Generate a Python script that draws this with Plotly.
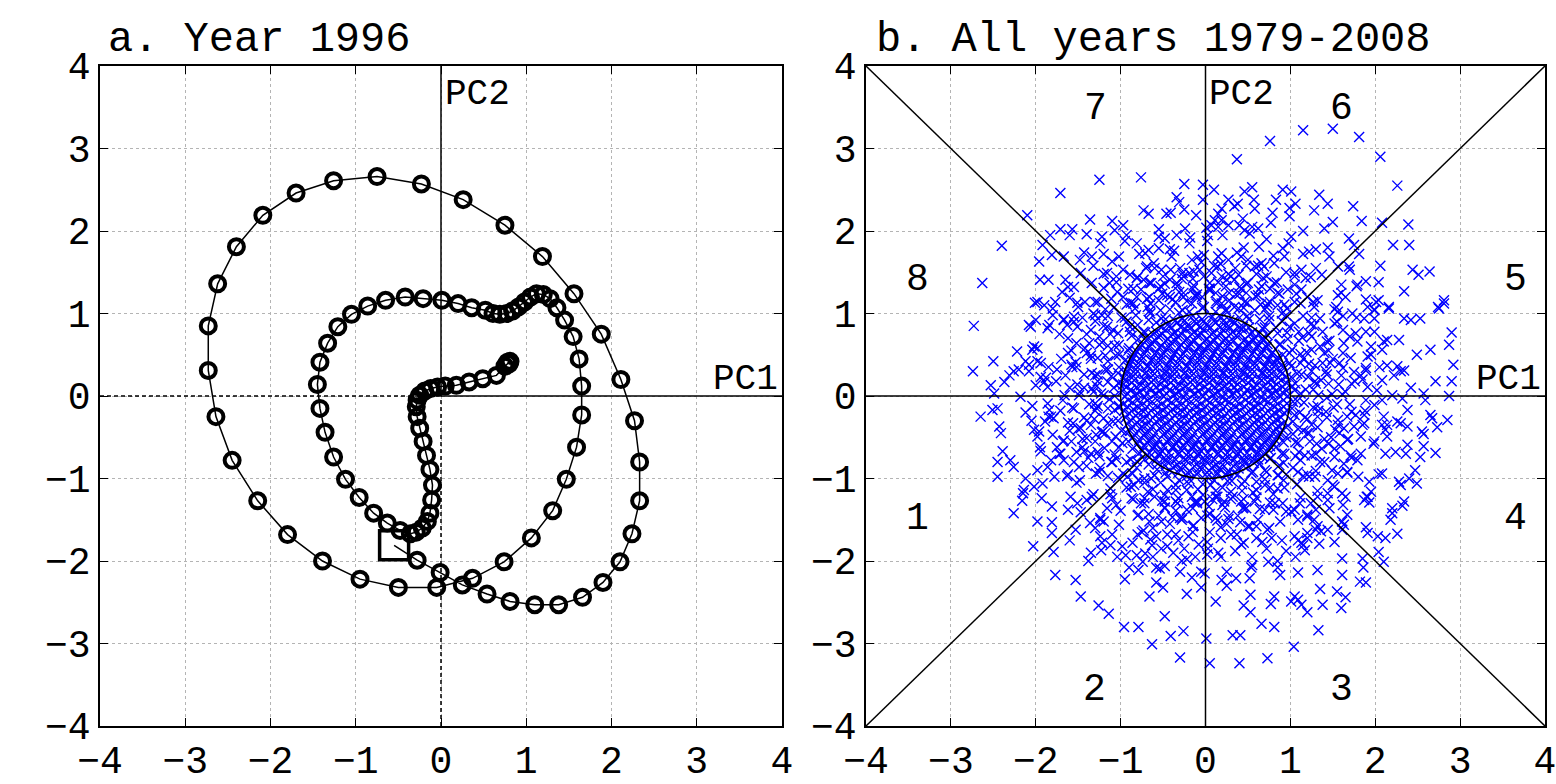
import plotly.graph_objects as go

# ---------------- Panel a: trajectory for 1996 (PC1, PC2) ----------------
start_point = (-0.55, -1.81)
traj_pc1 = [-0.28, -0.01, 0.25, 0.54, 0.81, 1.10, 1.38, 1.66, 1.90, 2.10, 2.24, 2.33, 2.33, 2.27, 2.11,
            1.88, 1.56, 1.19, 0.75, 0.26, -0.23, -0.75, -1.26, -1.70, -2.09, -2.40, -2.62, -2.73, -2.73,
            -2.64, -2.45, -2.15, -1.80, -1.39, -0.95, -0.50, -0.05, 0.37, 0.74, 1.06, 1.31, 1.47, 1.59,
            1.65, 1.65, 1.62, 1.55, 1.45, 1.36, 1.28, 1.20, 1.12, 1.05, 0.98, 0.91, 0.84, 0.77, 0.69, 0.61,
            0.52, 0.36, 0.20, 0.01, -0.21, -0.42, -0.65, -0.86, -1.05, -1.21, -1.33, -1.42, -1.45, -1.42,
            -1.36, -1.26, -1.12, -0.96, -0.79, -0.63, -0.48, -0.36, -0.29, -0.22, -0.16, -0.13, -0.11,
            -0.10, -0.13, -0.17, -0.21, -0.25, -0.28, -0.29, -0.28, -0.25, -0.19, -0.12, -0.04, 0.05,
            0.18, 0.33, 0.49, 0.65, 0.75, 0.79, 0.81, 0.80, 0.78]
traj_pc2 = [-1.99, -2.14, -2.29, -2.40, -2.49, -2.53, -2.53, -2.44, -2.26, -2.01, -1.67, -1.27, -0.80, -0.30, 0.20,
            0.75, 1.24, 1.69, 2.07, 2.38, 2.57, 2.66, 2.61, 2.46, 2.19, 1.81, 1.36, 0.85, 0.31,
            -0.25, -0.78, -1.27, -1.68, -2.00, -2.22, -2.32, -2.32, -2.21, -2.01, -1.72, -1.39, -1.01, -0.62,
            -0.23, 0.12, 0.45, 0.72, 0.92, 1.07, 1.18, 1.23, 1.24, 1.20, 1.14, 1.08, 1.03, 1.00, 0.99, 1.00,
            1.04, 1.07, 1.12, 1.16, 1.18, 1.20, 1.16, 1.09, 0.99, 0.84, 0.64, 0.41, 0.14, -0.15,
            -0.44, -0.74, -1.01, -1.23, -1.42, -1.54, -1.63, -1.67, -1.65, -1.60, -1.52, -1.42, -1.26,
            -1.08, -0.89, -0.72, -0.55, -0.39, -0.25, -0.13, -0.05, 0.01, 0.06, 0.09, 0.11, 0.12,
            0.13, 0.17, 0.21, 0.25, 0.36, 0.40, 0.42, 0.39, 0.41]

# ---------------- Panel b: all days 1979-2008 ----------------
scatter_outer = [
    (-1.25, 2.62), (-0.76, 2.65), (-1.71, 2.46), (-0.25, 2.57), (-2.10, 2.19), (-2.40, 1.82), (-2.63, 1.37),
    (-1.36, 2.14), (-1.10, 2.12), (-0.97, 2.07), (-0.73, 2.25), (-0.67, 2.21), (-0.34, 2.41), (-0.31, 2.35),
    (-0.25, 2.26), (-0.46, 2.21), (-0.41, 2.22), (-0.11, 2.19), (-0.03, 2.56), (-0.03, 2.38), (-1.83, 1.95),
    (-1.71, 2.02), (-1.57, 2.02), (-1.60, 1.95), (-1.40, 1.96), (-1.22, 1.93), (-1.24, 1.85), (-1.07, 2.01),
    (-0.93, 1.95), (-1.92, 1.83), (-1.81, 1.71), (-1.96, 1.63), (-1.67, 1.69), (-1.43, 1.74), (-1.48, 1.65),
    (-1.34, 1.69), (-0.81, 1.85), (-0.71, 1.73), (-0.55, 1.93), (-0.48, 1.91), (-0.34, 1.95), (-0.24, 2.03),
    (-0.19, 1.85), (-0.09, 1.69), (-0.55, 1.79), (-0.40, 1.69), (-0.61, 1.61), (-1.02, 1.69), (-1.10, 1.63),
    (-1.95, 1.41), (-1.85, 1.41), (-1.65, 1.41), (-1.47, 1.49), (-1.16, 1.49), (-1.34, 1.37), (-1.55, 1.32),
    (-1.69, 1.26), (-2.01, 1.13), (-1.77, 1.14), (-1.60, 1.19), (-1.51, 1.13), (-1.42, 1.14), (-1.30, 1.14),
    (-1.20, 1.31), (-1.13, 1.37), (-1.04, 1.26), (-0.97, 1.53), (-0.89, 1.47), (-0.81, 1.43), (-0.73, 1.41),
    (-0.66, 1.37), (-0.50, 1.45), (-0.42, 1.41), (-0.34, 1.37), (-0.26, 1.45), (-0.19, 1.49), (-0.07, 1.53),
    (-0.97, 1.20), (-0.81, 1.20), (-0.66, 1.20), (-0.42, 1.20), (-0.26, 1.20), (-0.11, 1.20),
    (1.15, 3.22), (1.50, 3.24), (1.81, 3.14), (0.76, 3.09), (0.37, 2.87), (2.06, 2.90), (2.26, 2.55),
    (0.10, 2.50), (0.46, 2.48), (0.55, 2.53), (0.91, 2.50), (1.01, 2.48), (1.34, 2.44), (1.44, 2.33),
    (1.74, 2.30), (1.28, 2.25), (1.06, 2.33), (0.99, 2.28), (0.99, 2.18), (0.83, 2.38), (0.79, 2.22),
    (0.57, 2.38), (0.58, 2.27), (0.38, 2.33), (0.34, 2.30), (0.27, 2.38), (0.19, 2.27), (0.15, 2.21),
    (0.11, 2.13), (0.07, 2.07), (0.01, 2.04), (1.84, 2.12), (1.50, 2.11), (1.40, 2.03), (2.08, 2.10),
    (2.39, 2.08), (2.21, 1.83), (2.40, 1.83), (1.69, 1.91), (1.75, 1.83), (1.44, 1.80), (1.46, 1.69),
    (1.30, 1.78), (1.81, 1.72), (2.06, 1.58), (1.70, 1.53), (1.56, 1.57), (2.44, 1.53), (2.51, 1.47),
    (2.64, 1.51), (2.04, 1.38), (1.89, 1.39), (1.78, 1.33), (2.34, 1.27), (1.60, 1.25), (1.89, 1.17),
    (2.01, 1.14), (2.16, 1.08), (2.81, 1.16), (2.74, 1.08), (1.37, 1.47), (1.18, 1.43), (1.15, 1.72),
    (1.01, 1.93), (1.15, 2.00), (0.91, 1.79), (0.77, 2.10), (0.72, 1.90), (0.62, 2.03), (0.44, 2.15),
    (0.40, 2.07), (0.46, 2.01), (0.52, 1.97), (0.27, 2.07), (0.19, 2.13), (0.15, 2.05), (0.03, 1.95),
    (0.19, 1.73), (0.15, 1.69), (0.27, 1.65), (0.42, 1.69), (0.50, 1.65), (0.58, 1.57), (0.66, 1.61),
    (0.81, 1.61), (0.93, 1.69), (1.05, 1.49), (1.13, 1.53), (0.07, 1.49), (0.19, 1.45), (0.34, 1.41),
    (0.50, 1.37), (0.66, 1.33), (0.81, 1.37), (0.97, 1.29), (1.13, 1.29), (1.05, 1.14), (1.20, 1.20),
    (1.32, 1.16), (1.28, 1.08), (0.73, 1.12), (0.46, 1.14), (0.19, 1.12), (0.34, 1.08), (1.56, 1.22),
    (1.65, 1.20), (1.54, 1.08), (1.91, 1.08), (1.99, 1.05), (1.79, 1.35), (1.69, 1.57),
    (-2.73, 0.85), (-2.74, 0.30), (-2.50, 0.42), (-2.65, -0.25), (-2.53, 0.13), (-2.49, 0.03), (-2.51, -0.17),
    (-2.45, -0.15), (-2.43, -0.37), (-2.41, -0.45), (-2.39, -0.67), (-2.30, -0.78), (-2.26, -0.86),
    (-2.45, -0.80), (-2.45, -0.98), (-2.22, 0.54), (-2.12, 0.42), (-2.20, 0.32), (-2.26, 0.30), (-2.31, 0.25),
    (-2.37, 0.17), (-2.08, 0.86), (-2.06, 0.84), (-2.00, 0.92), (-1.84, 0.86), (-1.86, 0.82), (-2.02, 0.60),
    (-2.04, 0.56), (-1.98, 0.42), (-1.94, 0.40), (-2.08, 0.30), (-2.18, -0.01), (-2.00, 0.13), (-1.90, 0.17),
    (-1.86, 0.11), (-1.94, 0.23), (-2.12, -0.20), (-2.04, -0.12), (-2.02, -0.41), (-1.98, -0.49),
    (-1.96, -0.43), (-1.94, -0.67), (-1.98, -0.90), (-1.86, -0.86), (-1.82, -0.78), (-2.12, -1.00),
    (-2.14, -1.14), (-2.02, -1.10), (-1.92, -1.06), (-1.90, 1.10), (-1.98, 1.14), (-1.80, 1.06), (-1.67, 0.92),
    (-1.63, 0.86), (-1.55, 0.96), (-1.51, 0.84), (-1.86, -0.09), (-1.82, -0.25), (-1.84, -0.17), (-1.79, -0.27),
    (-1.80, -0.47), (-1.67, -0.54), (-1.75, -0.62), (-1.71, -0.70), (-1.67, -0.78),
    (-1.62, 0.70), (-1.58, 0.55), (-1.70, 0.45), (-1.52, 0.35), (-1.65, 0.25), (-1.75, 0.32), (-1.60, 0.10),
    (-1.48, 0.05), (-1.68, -0.05), (-1.55, -0.15), (-1.62, -0.32), (-1.50, -0.40), (-1.58, -0.55),
    (-1.45, -0.62), (-1.55, -0.80), (-1.40, -0.85), (-1.62, -0.95), (-1.48, -1.02), (-1.35, -0.70),
    (-1.30, -0.55), (-1.35, -0.35), (-1.28, -0.15), (-1.32, 0.05), (-1.30, 0.25), (-1.35, 0.45), (-1.25, 0.62),
    (-1.40, 0.75), (-1.20, 0.85), (-1.45, 0.95), (-1.32, 1.00), (-1.18, 1.05),
    (2.75, 1.06), (2.81, 1.12), (2.90, 0.77), (2.87, 0.62), (2.92, 0.38), (2.90, 0.18), (2.87, 0.00),
    (2.85, -0.29), (2.71, -0.69), (2.73, -0.38), (2.65, 0.56), (2.49, 0.50), (2.53, 0.94), (2.42, 0.92),
    (2.34, 0.94), (2.16, 1.06), (2.04, 1.16), (1.99, 1.04), (1.87, 0.94), (1.99, 0.94), (1.73, 1.00),
    (1.56, 1.02), (1.52, 0.88), (1.89, 0.78), (1.99, 0.78), (1.77, 0.76), (2.14, 0.68), (2.28, 0.68),
    (2.08, 0.56), (2.10, 0.66), (1.95, 0.50), (2.26, 0.36), (2.30, 0.30), (2.22, 0.25), (2.14, 0.37),
    (2.08, 0.19), (2.42, 0.10), (2.34, 0.31), (2.71, 0.18), (2.57, 0.03), (2.59, -0.05), (2.38, -0.17),
    (2.65, -0.23), (2.67, -0.27), (2.30, -0.33), (2.38, -0.37), (2.55, -0.43), (2.57, -0.46), (2.10, -0.25),
    (2.14, -0.35), (2.26, -0.31), (1.99, -0.55), (2.14, -0.49), (2.12, -0.41), (2.38, -0.59), (2.36, -0.70),
    (2.57, -0.61), (2.53, -0.74), (2.12, -0.70), (2.24, -0.68), (2.47, -0.90), (2.40, -1.00), (2.49, -1.06),
    (2.08, -0.94), (2.04, -0.95), (1.93, -1.04), (2.28, -1.04), (2.30, -1.08), (1.89, -0.05), (1.99, -0.11),
    (1.87, -0.23), (2.08, -0.05), (2.20, 0.01), (2.32, -0.03), (2.02, 0.07), (1.91, 0.11), (1.75, 0.29),
    (1.83, 0.25), (1.89, 0.34), (1.71, 0.46), (1.91, 0.48), (1.79, 0.66), (1.63, 0.64), (1.67, -0.25),
    (1.77, -0.23), (1.87, -0.33), (1.75, -0.37), (1.63, -0.39), (1.56, -0.29), (1.83, -0.49), (1.67, -0.53),
    (1.59, -0.61), (1.83, -0.70), (1.71, -0.72), (1.79, -0.78), (1.63, -0.82), (1.52, -0.74), (1.56, -0.94),
    (1.67, -0.92), (1.44, -1.02), (1.52, -1.10), (1.61, -1.18), (1.44, -1.18), (1.91, -1.22), (1.95, -1.16),
    (-2.26, -1.42), (-2.16, -1.27), (-2.15, -1.18), (-1.93, -1.24), (-1.81, -1.34), (-1.98, -1.52),
    (-1.81, -1.53), (-1.81, -1.66), (-2.03, -1.82), (-1.79, -1.89), (-1.77, -2.17), (-1.53, -2.23),
    (-1.47, -2.43), (-1.26, -2.54), (-1.14, -2.64), (-0.96, -2.80), (-0.79, -2.80), (-0.63, -3.01),
    (-0.30, -3.17), (-0.41, -2.91), (-0.26, -2.85), (-0.48, -2.67), (-0.66, -2.43), (-0.50, -2.32),
    (-0.58, -2.26), (-0.22, -2.40), (-0.16, -2.20), (-0.05, -2.32), (-0.05, -2.13), (-0.28, -2.00),
    (-0.30, -2.13), (-0.54, -2.09), (-0.48, -2.06), (-0.95, -2.22), (-0.90, -2.08), (-0.79, -2.11),
    (-1.38, -2.00), (-1.35, -1.90), (-1.53, -1.62), (-1.60, -1.75), (-1.47, -1.41), (-1.51, -1.30),
    (-1.24, -1.70), (-1.23, -1.87), (-1.12, -1.81), (-1.10, -1.68), (-1.04, -1.95), (-0.94, -1.93),
    (-0.81, -1.93), (-0.74, -2.01), (-0.71, -1.91), (-1.36, -1.54), (-1.24, -1.50), (-1.20, -1.52),
    (-1.16, -1.36), (-1.02, -1.56), (-0.86, -1.78), (-0.65, -1.74), (-1.59, -1.22), (-1.40, -1.26),
    (-1.34, -1.22), (-1.10, -1.24),
    (-0.85, -1.25), (-0.72, -1.30), (-0.60, -1.22), (-0.48, -1.35), (-0.35, -1.28), (-0.22, -1.38),
    (-0.10, -1.30), (-0.80, -1.45), (-0.66, -1.52), (-0.55, -1.45), (-0.42, -1.55), (-0.28, -1.50),
    (-0.15, -1.58), (-0.05, -1.48), (-0.75, -1.65), (-0.58, -1.70), (-0.45, -1.68), (-0.32, -1.75),
    (-0.20, -1.70), (-0.08, -1.80), (-0.52, -1.85), (-0.38, -1.90), (-0.25, -1.85), (-0.62, -1.95),
    (-0.12, -1.95),
    (2.34, -1.28), (2.32, -1.33), (2.20, -1.36), (2.18, -1.50), (2.20, -1.42), (2.26, -1.67), (2.12, -1.72),
    (2.03, -1.70), (2.04, -1.89), (2.10, -2.01), (1.90, -1.22), (1.93, -1.29), (1.87, -1.26), (1.65, -1.22),
    (1.89, -1.59), (1.91, -1.66), (1.85, -1.97), (1.86, -2.08), (1.82, -2.25), (1.89, -2.26), (1.61, -1.97),
    (1.61, -2.17), (1.55, -2.37), (1.65, -2.44), (1.60, -2.57), (1.38, -2.53), (1.35, -2.34), (1.32, -2.11),
    (1.33, -2.84), (1.09, -2.14), (1.09, -2.47), (1.05, -2.43), (1.13, -2.53), (1.01, -2.49), (1.20, -2.62),
    (1.04, -3.04), (0.73, -3.18), (0.40, -3.24), (0.05, -3.24), (0.01, -2.94), (0.32, -2.90), (0.41, -2.90),
    (0.66, -2.76), (0.81, -2.80), (0.53, -2.62), (0.45, -2.54), (0.53, -2.41), (0.77, -2.52), (0.81, -2.43),
    (0.12, -2.49), (0.19, -2.23), (0.25, -2.30), (0.25, -2.13), (0.36, -2.21), (0.52, -2.21), (0.54, -2.08),
    (0.88, -2.17), (0.85, -2.08), (0.74, -2.01), (0.85, -2.00), (1.06, -1.95), (1.09, -1.75), (1.17, -1.87),
    (1.15, -1.81), (1.05, -1.70), (1.13, -1.78), (1.20, -1.66), (1.30, -1.62), (1.36, -1.64), (1.44, -1.62),
    (1.34, -1.79), (1.52, -1.77), (1.61, -1.62), (1.09, -1.50), (1.20, -1.46), (1.30, -1.38), (1.28, -1.50),
    (1.24, -1.30), (1.11, -1.30), (1.32, -1.22), (1.44, -1.26), (1.46, -1.36), (1.63, -1.56), (1.67, -1.44),
    (1.61, -1.52), (-0.01, -2.15),
    (0.08, -1.25), (0.20, -1.32), (0.32, -1.22), (0.45, -1.35), (0.58, -1.28), (0.70, -1.38), (0.82, -1.30),
    (0.95, -1.40), (0.12, -1.48), (0.25, -1.55), (0.38, -1.45), (0.50, -1.58), (0.62, -1.50), (0.75, -1.60),
    (0.88, -1.52), (0.05, -1.65), (0.18, -1.72), (0.30, -1.68), (0.45, -1.78), (0.60, -1.72), (0.72, -1.85),
    (0.90, -1.75), (0.15, -1.90), (0.35, -1.88), (0.55, -1.95), (0.03, -1.85),
    (0.05, 1.30), (0.15, 1.38), (0.28, 1.25), (0.40, 1.32), (0.62, 1.22), (0.72, 1.45), (0.85, 1.25),
    (-0.05, 1.62), (0.10, 1.58), (0.35, 1.55), (0.60, 1.48), (0.95, 1.50), (-0.30, 1.55), (-0.15, 1.30),
    (-0.55, 1.30), (-0.70, 1.55), (-0.85, 1.30),
    (1.45, 0.15), (1.60, 0.25), (1.50, 0.45), (1.65, 0.05), (1.55, -0.10), (1.72, 0.15), (1.35, 0.60),
    (1.62, 0.80), (1.48, -0.50), (1.30, -0.70), (1.40, -0.80), (1.20, -0.95), (1.70, -0.10), (1.28, 0.85),
    (1.42, 0.30), (1.25, 0.30), (1.32, -0.25), (1.22, -0.45),
]

scatter_ring = [
    (1.12, 0.03), (1.06, 0.15), (1.08, 0.27), (0.99, 0.40), (0.99, 0.52), (0.88, 0.63), (0.85, 0.76),
    (0.70, 0.83), (0.64, 0.93), (0.49, 0.97), (0.39, 1.06), (0.24, 1.05), (0.13, 1.12), (-0.02, 1.08),
    (-0.16, 1.12), (-0.27, 1.04), (-0.42, 1.05), (-0.52, 0.94), (-0.67, 0.92), (-0.73, 0.78), (-0.87, 0.73),
    (-0.90, 0.58), (-1.02, 0.50), (-1.02, 0.35), (-1.11, 0.24), (-1.08, 0.10), (-1.13, -0.04), (-1.07, -0.17),
    (-1.09, -0.31), (-0.99, -0.42), (-0.98, -0.57), (-0.86, -0.64), (-0.81, -0.79), (-0.67, -0.83),
    (-0.60, -0.96), (-0.45, -0.98), (-0.35, -1.08), (-0.20, -1.06), (-0.09, -1.13), (0.06, -1.08),
    (0.20, -1.11), (0.31, -1.03), (0.46, -1.03), (0.56, -0.92), (0.70, -0.90), (0.76, -0.76), (0.90, -0.70),
    (0.92, -0.56), (1.03, -0.46), (1.03, -0.31), (1.11, -0.20), (1.08, -0.06),
    (1.27, 0.08), (1.21, 0.23), (1.22, 0.39), (1.12, 0.51), (1.10, 0.67), (0.96, 0.77), (0.90, 0.91),
    (0.75, 0.97), (0.65, 1.11), (0.49, 1.13), (0.36, 1.23), (0.20, 1.21), (0.05, 1.28), (-0.10, 1.23),
    (-0.26, 1.25), (-0.39, 1.17), (-0.55, 1.16), (-0.66, 1.03), (-0.82, 0.98), (-0.89, 0.84), (-1.03, 0.76),
    (-1.07, 0.61), (-1.18, 0.49), (-1.18, 0.32), (-1.27, 0.18), (-1.23, 0.03), (-1.27, -0.12), (-1.20, -0.27),
    (-1.21, -0.43), (-1.10, -0.55), (-1.07, -0.71), (-0.93, -0.80), (-0.86, -0.94), (-0.72, -1.00),
    (-0.62, -1.13), (-0.45, -1.14), (-0.32, -1.24), (-0.16, -1.22), (-0.01, -1.28), (0.14, -1.22),
    (0.30, -1.25), (0.43, -1.15), (0.60, -1.14), (0.70, -1.01), (0.85, -0.96), (0.92, -0.81), (1.06, -0.73),
    (1.09, -0.57), (1.20, -0.45), (1.20, -0.28), (1.27, -0.14),
    (1.43, -0.02), (1.36, 0.19), (1.38, 0.40), (1.25, 0.56), (1.22, 0.76), (1.05, 0.88), (0.96, 1.06),
    (0.76, 1.14), (0.63, 1.29), (0.42, 1.30), (0.25, 1.41), (0.05, 1.37), (-0.15, 1.42), (-0.33, 1.33),
    (-0.53, 1.33), (-0.69, 1.18), (-0.88, 1.13), (-0.99, 0.95), (-1.16, 0.84), (-1.22, 0.65), (-1.35, 0.49),
    (-1.34, 0.28), (-1.43, 0.10), (-1.37, -0.10), (-1.40, -0.30), (-1.29, -0.47), (-1.27, -0.68),
    (-1.11, -0.80), (-1.03, -0.99), (-0.84, -1.08), (-0.72, -1.24), (-0.51, -1.27), (-0.35, -1.39),
    (-0.15, -1.36), (0.05, -1.43), (0.23, -1.35), (0.44, -1.36), (0.60, -1.23), (0.80, -1.19), (0.92, -1.02),
    (1.09, -0.92), (1.17, -0.72), (1.31, -0.58), (1.32, -0.38), (1.42, -0.19),
    (1.57, 0.14), (1.47, 0.40), (1.43, 0.66), (1.24, 0.87), (1.12, 1.12), (0.87, 1.24), (0.68, 1.43),
    (0.39, 1.47), (0.14, 1.57), (-0.14, 1.51), (-0.41, 1.53), (-0.64, 1.37), (-0.91, 1.30), (-1.08, 1.07),
    (-1.30, 0.91), (-1.37, 0.64), (-1.53, 0.41), (-1.51, 0.14), (-1.57, -0.14), (-1.47, -0.39),
    (-1.43, -0.67), (-1.24, -0.87), (-1.12, -1.12), (-0.87, -1.24), (-0.67, -1.43), (-0.39, -1.47),
    (-0.14, -1.57), (0.14, -1.51), (0.41, -1.53), (0.64, -1.37), (0.91, -1.30), (1.08, -1.07), (1.30, -0.91),
    (1.37, -0.64), (1.53, -0.41), (1.51, -0.14),
    (1.76, 0.18), (1.62, 0.52), (1.55, 0.90), (1.27, 1.14), (1.05, 1.45), (0.69, 1.57), (0.37, 1.74),
    (-0.02, 1.71), (-0.37, 1.76), (-0.69, 1.57), (-1.05, 1.45), (-1.27, 1.14), (-1.55, 0.90), (-1.62, 0.52),
    (-1.76, 0.18), (-1.71, -0.18), (-1.68, -0.55), (-1.49, -0.86), (-1.32, -1.19), (-1.00, -1.39),
    (-0.73, -1.63), (-0.35, -1.68), (0.02, -1.77), (0.37, -1.68), (0.73, -1.62), (1.01, -1.40),
    (1.32, -1.15), (1.49, -0.90), (1.68, -0.52), (1.72, -0.19),
]

scatter_ring_b = [
    (1.18, 0.08), (1.13, 0.26), (1.12, 0.40), (1.02, 0.56), (0.97, 0.69), (0.83, 0.83), (0.75, 0.92),
    (0.58, 1.04), (0.45, 1.07), (0.28, 1.16), (0.13, 1.15), (-0.04, 1.20), (-0.22, 1.15), (-0.35, 1.14),
    (-0.53, 1.04), (-0.65, 1.00), (-0.80, 0.86), (-0.89, 0.78), (-1.02, 0.62), (-1.06, 0.49), (-1.15, 0.32),
    (-1.15, 0.17), (-1.20, 0.01), (-1.15, -0.15), (-1.15, -0.33), (-1.06, -0.49), (-1.02, -0.62),
    (-0.88, -0.77), (-0.81, -0.87), (-0.64, -1.00), (-0.53, -1.05), (-0.35, -1.14), (-0.22, -1.14),
    (-0.03, -1.20), (0.12, -1.15), (0.30, -1.16), (0.43, -1.07), (0.60, -1.04), (0.72, -0.92), (0.87, -0.84),
    (0.93, -0.70), (1.06, -0.56), (1.09, -0.40), (1.17, -0.26), (1.16, -0.08),
    (1.33, 0.01), (1.29, 0.18), (1.29, 0.37), (1.19, 0.53), (1.14, 0.71), (0.99, 0.84), (0.90, 1.00),
    (0.72, 1.08), (0.59, 1.21), (0.40, 1.24), (0.24, 1.33), (0.04, 1.30), (-0.14, 1.34), (-0.31, 1.26),
    (-0.51, 1.24), (-0.65, 1.12), (-0.83, 1.06), (-0.93, 0.90), (-1.09, 0.80), (-1.15, 0.61), (-1.27, 0.46),
    (-1.27, 0.26), (-1.34, 0.09), (-1.30, -0.09), (-1.31, -0.28), (-1.22, -0.44), (-1.19, -0.63),
    (-1.05, -0.76), (-0.97, -0.94), (-0.79, -1.02), (-0.68, -1.16), (-0.48, -1.20), (-0.33, -1.30),
    (-0.13, -1.29), (0.04, -1.34), (0.22, -1.28), (0.42, -1.28), (0.56, -1.17), (0.76, -1.11), (0.86, -0.96),
    (1.03, -0.87), (1.10, -0.68), (1.23, -0.55), (1.25, -0.35), (1.33, -0.18),
    (1.05, 0.07), (1.01, 0.23), (1.01, 0.36), (0.91, 0.50), (0.87, 0.62), (0.73, 0.74), (0.67, 0.82),
    (0.51, 0.93), (0.40, 0.95), (0.24, 1.03), (0.12, 1.02), (-0.04, 1.07), (-0.19, 1.02), (-0.31, 1.01),
    (-0.47, 0.93), (-0.58, 0.89), (-0.71, 0.77), (-0.79, 0.69), (-0.91, 0.55), (-0.94, 0.44), (-1.03, 0.28),
    (-1.02, 0.16), (-1.07, 0.00), (-1.02, -0.14), (-1.03, -0.30), (-0.94, -0.44), (-0.91, -0.55),
    (-0.78, -0.69), (-0.72, -0.77), (-0.57, -0.89), (-0.47, -0.93), (-0.31, -1.02), (-0.19, -1.01),
    (-0.03, -1.07), (0.10, -1.02), (0.26, -1.03), (0.38, -0.95), (0.54, -0.93), (0.64, -0.82), (0.77, -0.75),
    (0.83, -0.62), (0.95, -0.50), (0.97, -0.36), (1.05, -0.23), (1.03, -0.07),
    (1.49, 0.02), (1.43, 0.26), (1.40, 0.52), (1.25, 0.72), (1.15, 0.97), (0.93, 1.11), (0.76, 1.30),
    (0.48, 1.36), (0.27, 1.48), (-0.02, 1.45), (-0.27, 1.49), (-0.48, 1.36), (-0.76, 1.29), (-0.93, 1.11),
    (-1.15, 0.97), (-1.25, 0.72), (-1.40, 0.52), (-1.43, 0.26), (-1.49, 0.01), (-1.43, -0.26),
    (-1.40, -0.51), (-1.25, -0.73), (-1.15, -0.97), (-0.93, -1.11), (-0.76, -1.30), (-0.48, -1.36),
    (-0.27, -1.48), (0.02, -1.45), (0.27, -1.49), (0.48, -1.36), (0.76, -1.29), (0.93, -1.11), (1.15, -0.97),
    (1.25, -0.72), (1.40, -0.52), (1.43, -0.26),
    (1.61, 0.02), (1.62, 0.34), (1.46, 0.67), (1.35, 0.94), (1.07, 1.24), (0.84, 1.38), (0.48, 1.58),
    (0.18, 1.60), (-0.16, 1.65), (-0.52, 1.53), (-0.80, 1.44), (-1.11, 1.18), (-1.30, 0.98), (-1.52, 0.64),
    (-1.57, 0.35), (-1.66, 0.01), (-1.56, -0.33), (-1.52, -0.68), (-1.29, -0.94), (-1.12, -1.19),
    (-0.79, -1.44), (-0.52, -1.52), (-0.15, -1.65), (0.18, -1.59), (0.52, -1.58), (0.80, -1.38),
    (1.12, -1.23), (1.29, -0.98), (1.52, -0.64), (1.56, -0.35),
    (1.89, 0.31), (1.62, 0.97), (1.24, 1.44), (0.63, 1.81), (0.02, 1.88), (-0.67, 1.77), (-1.20, 1.48),
    (-1.67, 0.93), (-1.85, 0.35), (-1.89, -0.31), (-1.63, -0.97), (-1.24, -1.48), (-0.63, -1.81),
    (0.02, -1.92), (0.67, -1.77), (1.20, -1.44), (1.67, -0.93), (1.85, -0.35),
]

scatter_ring_c = [
    (1.02, 0.12), (1.15, 0.45), (1.30, 0.15), (1.45, 0.55), (1.10, 0.78), (0.95, 0.98), (1.25, 0.95),
    (0.70, 1.05), (0.48, 1.25), (0.30, 1.45), (0.12, 1.25), (0.62, 1.58), (0.85, 1.10), (1.38, 0.78),
    (1.58, 0.40), (1.70, 0.72), (1.85, 0.20), (1.52, 1.05), (1.05, 1.35), (0.80, 1.70), (0.45, 1.80),
    (0.20, 1.95), (1.95, 0.60), (1.60, 1.35), (1.30, 1.55), (2.05, 0.35), (1.78, 0.95), (0.98, 1.85),
    (0.55, 2.05), (1.22, 1.75),
    (-1.02, 0.15), (-1.15, 0.42), (-1.28, 0.12), (-1.42, 0.58), (-1.12, 0.75), (-0.95, 0.95), (-1.22, 0.98),
    (-0.68, 1.08), (-0.45, 1.22), (-0.28, 1.42), (-0.12, 1.22), (-0.60, 1.55), (-0.85, 1.12), (-1.35, 0.80),
    (-1.58, 0.38), (-1.72, 0.75), (-1.88, 0.22), (-1.50, 1.08), (-1.05, 1.38), (-0.78, 1.72), (-0.42, 1.78),
    (-0.18, 1.92), (-1.98, 0.58), (-1.62, 1.32), (-1.32, 1.58), (-2.08, 0.38), (-1.80, 0.98), (-0.95, 1.88),
    (-0.55, 2.02), (-1.20, 1.72),
    (-1.02, -0.12), (-1.18, -0.45), (-1.30, -0.18), (-1.45, -0.52), (-1.10, -0.80), (-0.92, -0.98),
    (-1.25, -0.92), (-0.72, -1.05), (-0.48, -1.28), (-0.30, -1.48), (-0.10, -1.28), (-0.62, -1.60),
    (-0.88, -1.10), (-1.38, -0.75), (-1.60, -0.42), (-1.72, -0.70), (-1.85, -0.25), (-1.52, -1.05),
    (-1.05, -1.32), (-0.80, -1.68), (-0.45, -1.82), (-0.22, -1.98), (-1.95, -0.62), (-1.62, -1.38),
    (-1.30, -1.60), (-2.05, -0.30), (-1.78, -0.98), (-0.98, -1.82), (-0.58, -2.08), (-1.22, -1.78),
    (1.02, -0.15), (1.15, -0.42), (1.32, -0.12), (1.45, -0.58), (1.12, -0.78), (0.95, -0.95), (1.22, -0.98),
    (0.70, -1.08), (0.45, -1.25), (0.28, -1.45), (0.12, -1.22), (0.60, -1.58), (0.85, -1.12), (1.35, -0.80),
    (1.58, -0.45), (1.72, -0.75), (1.88, -0.18), (1.50, -1.08), (1.05, -1.38), (0.78, -1.72), (0.42, -1.80),
    (0.18, -1.95), (1.98, -0.58), (1.62, -1.32), (1.32, -1.58), (2.08, -0.35), (1.80, -0.98), (0.95, -1.88),
    (0.55, -2.05), (1.20, -1.72),
]

scatter_core = [
    (-0.27, 0.94), (-0.15, 0.97), (-0.04, 0.93), (0.08, 0.96), (0.19, 0.95), (0.28, 0.92),
    (-0.45, 0.86), (-0.33, 0.89), (-0.22, 0.85), (-0.11, 0.88), (0.01, 0.86), (0.12, 0.89), (0.23, 0.85),
    (0.34, 0.88), (0.44, 0.84),
    (-0.58, 0.78), (-0.47, 0.80), (-0.36, 0.77), (-0.24, 0.81), (-0.13, 0.78), (-0.02, 0.80), (0.09, 0.77),
    (0.21, 0.80), (0.32, 0.78), (0.43, 0.81), (0.55, 0.77),
    (-0.67, 0.70), (-0.56, 0.72), (-0.44, 0.69), (-0.33, 0.72), (-0.21, 0.70), (-0.10, 0.73), (0.02, 0.69),
    (0.13, 0.72), (0.24, 0.70), (0.36, 0.73), (0.47, 0.69), (0.58, 0.71), (0.67, 0.70),
    (-0.75, 0.62), (-0.64, 0.64), (-0.52, 0.61), (-0.41, 0.65), (-0.29, 0.62), (-0.18, 0.64), (-0.07, 0.61),
    (0.05, 0.64), (0.16, 0.62), (0.27, 0.65), (0.39, 0.61), (0.50, 0.64), (0.62, 0.62), (0.73, 0.63),
    (-0.81, 0.54), (-0.70, 0.56), (-0.58, 0.53), (-0.46, 0.57), (-0.35, 0.54), (-0.23, 0.56), (-0.12, 0.53),
    (-0.01, 0.57), (0.11, 0.54), (0.22, 0.56), (0.34, 0.53), (0.45, 0.57), (0.57, 0.54), (0.68, 0.56),
    (0.79, 0.53),
    (-0.86, 0.46), (-0.75, 0.48), (-0.63, 0.45), (-0.52, 0.49), (-0.40, 0.46), (-0.29, 0.48), (-0.17, 0.45),
    (-0.06, 0.49), (0.06, 0.46), (0.17, 0.48), (0.28, 0.45), (0.40, 0.49), (0.51, 0.46), (0.63, 0.48),
    (0.74, 0.45), (0.85, 0.47),
    (-0.90, 0.38), (-0.79, 0.40), (-0.68, 0.37), (-0.56, 0.41), (-0.45, 0.38), (-0.33, 0.40), (-0.22, 0.37),
    (-0.10, 0.41), (0.01, 0.38), (0.13, 0.40), (0.24, 0.37), (0.35, 0.41), (0.47, 0.38), (0.58, 0.40),
    (0.70, 0.37), (0.81, 0.41), (0.90, 0.38),
    (-0.93, 0.30), (-0.82, 0.32), (-0.70, 0.29), (-0.59, 0.33), (-0.47, 0.30), (-0.36, 0.32), (-0.24, 0.29),
    (-0.13, 0.33), (-0.02, 0.30), (0.10, 0.32), (0.21, 0.29), (0.33, 0.33), (0.44, 0.30), (0.55, 0.32),
    (0.67, 0.29), (0.78, 0.33), (0.89, 0.30),
    (-0.96, 0.22), (-0.85, 0.24), (-0.73, 0.21), (-0.62, 0.25), (-0.50, 0.22), (-0.39, 0.24), (-0.27, 0.21),
    (-0.16, 0.25), (-0.05, 0.22), (0.07, 0.24), (0.18, 0.21), (0.30, 0.25), (0.41, 0.22), (0.52, 0.24),
    (0.64, 0.21), (0.75, 0.25), (0.86, 0.22), (0.95, 0.23),
    (-0.97, 0.14), (-0.87, 0.16), (-0.76, 0.13), (-0.64, 0.17), (-0.53, 0.14), (-0.41, 0.16), (-0.30, 0.13),
    (-0.18, 0.17), (-0.07, 0.14), (0.04, 0.16), (0.16, 0.13), (0.27, 0.17), (0.38, 0.14), (0.50, 0.16),
    (0.61, 0.13), (0.73, 0.17), (0.84, 0.14), (0.95, 0.16),
    (-0.98, 0.06), (-0.88, 0.08), (-0.77, 0.05), (-0.65, 0.09), (-0.54, 0.06), (-0.42, 0.08), (-0.31, 0.05),
    (-0.20, 0.09), (-0.08, 0.06), (0.03, 0.08), (0.15, 0.05), (0.26, 0.09), (0.37, 0.06), (0.49, 0.08),
    (0.60, 0.05), (0.72, 0.09), (0.83, 0.06), (0.94, 0.08),
    (-0.95, -0.01), (-0.83, 0.01), (-0.72, -0.02), (-0.60, 0.02), (-0.49, -0.01), (-0.37, 0.01), (-0.26, -0.02),
    (-0.14, 0.02), (-0.03, -0.01), (0.09, 0.01), (0.20, -0.02), (0.31, 0.02), (0.43, -0.01), (0.54, 0.01),
    (0.66, -0.02), (0.77, 0.02), (0.88, -0.01), (0.97, 0.00),
    (-0.97, -0.10), (-0.86, -0.08), (-0.75, -0.11), (-0.63, -0.07), (-0.52, -0.10), (-0.40, -0.08),
    (-0.29, -0.11), (-0.17, -0.07), (-0.06, -0.10), (0.05, -0.08), (0.17, -0.11), (0.28, -0.07), (0.40, -0.10),
    (0.51, -0.08), (0.62, -0.11), (0.74, -0.07), (0.85, -0.10), (0.96, -0.09),
    (-0.96, -0.18), (-0.85, -0.16), (-0.73, -0.19), (-0.62, -0.15), (-0.50, -0.18), (-0.39, -0.16),
    (-0.27, -0.19), (-0.16, -0.15), (-0.04, -0.18), (0.07, -0.16), (0.18, -0.19), (0.30, -0.15), (0.41, -0.18),
    (0.53, -0.16), (0.64, -0.19), (0.76, -0.15), (0.87, -0.18), (0.96, -0.17),
    (-0.94, -0.26), (-0.82, -0.24), (-0.71, -0.27), (-0.59, -0.23), (-0.48, -0.26), (-0.36, -0.24),
    (-0.25, -0.27), (-0.14, -0.23), (-0.02, -0.26), (0.09, -0.24), (0.21, -0.27), (0.32, -0.23), (0.44, -0.26),
    (0.55, -0.24), (0.66, -0.27), (0.78, -0.23), (0.89, -0.26),
    (-0.92, -0.34), (-0.81, -0.32), (-0.69, -0.35), (-0.58, -0.31), (-0.46, -0.34), (-0.35, -0.32),
    (-0.23, -0.35), (-0.12, -0.31), (0.00, -0.34), (0.11, -0.32), (0.23, -0.35), (0.34, -0.31), (0.45, -0.34),
    (0.57, -0.32), (0.68, -0.35), (0.80, -0.31), (0.91, -0.34),
    (-0.89, -0.42), (-0.77, -0.40), (-0.66, -0.43), (-0.54, -0.39), (-0.43, -0.42), (-0.31, -0.40),
    (-0.20, -0.43), (-0.08, -0.39), (0.03, -0.42), (0.15, -0.40), (0.26, -0.43), (0.38, -0.39), (0.49, -0.42),
    (0.60, -0.40), (0.72, -0.43), (0.83, -0.39), (0.91, -0.41),
    (-0.85, -0.50), (-0.73, -0.48), (-0.62, -0.51), (-0.50, -0.47), (-0.39, -0.50), (-0.27, -0.48),
    (-0.16, -0.51), (-0.04, -0.47), (0.07, -0.50), (0.19, -0.48), (0.30, -0.51), (0.42, -0.47), (0.53, -0.50),
    (0.64, -0.48), (0.76, -0.51), (0.86, -0.48),
    (-0.80, -0.58), (-0.69, -0.56), (-0.57, -0.59), (-0.46, -0.55), (-0.34, -0.58), (-0.23, -0.56),
    (-0.11, -0.59), (0.00, -0.55), (0.12, -0.58), (0.23, -0.56), (0.35, -0.59), (0.46, -0.55), (0.58, -0.58),
    (0.69, -0.56), (0.80, -0.58),
    (-0.74, -0.66), (-0.62, -0.64), (-0.51, -0.67), (-0.39, -0.63), (-0.28, -0.66), (-0.16, -0.64),
    (-0.05, -0.67), (0.07, -0.63), (0.18, -0.66), (0.30, -0.64), (0.41, -0.67), (0.53, -0.63), (0.64, -0.66),
    (0.74, -0.65),
    (-0.66, -0.74), (-0.55, -0.72), (-0.43, -0.75), (-0.32, -0.71), (-0.20, -0.74), (-0.09, -0.72),
    (0.03, -0.75), (0.14, -0.71), (0.26, -0.74), (0.37, -0.72), (0.49, -0.75), (0.60, -0.71), (0.67, -0.73),
    (-0.56, -0.82), (-0.45, -0.80), (-0.33, -0.83), (-0.22, -0.79), (-0.10, -0.82), (0.01, -0.80),
    (0.13, -0.83), (0.24, -0.79), (0.36, -0.82), (0.47, -0.80), (0.57, -0.81),
    (-0.42, -0.90), (-0.30, -0.88), (-0.19, -0.91), (-0.07, -0.87), (0.04, -0.90), (0.16, -0.88),
    (0.27, -0.91), (0.39, -0.88),
    (-0.22, -0.97), (-0.10, -0.95), (0.02, -0.98), (0.14, -0.95), (0.25, -0.96),
]

# second, interleaved set of core days (rows of PC2 with their PC1 values)
core_rows_pc2 = [0.91, 0.83, 0.75, 0.67, 0.59, 0.51, 0.43, 0.35, 0.27, 0.19, 0.11, 0.03, -0.05, -0.13,
                 -0.21, -0.29, -0.37, -0.45, -0.53, -0.61, -0.69, -0.77, -0.85, -0.93]
core_rows_pc1 = [
    [-0.36, -0.25, -0.13, -0.02, 0.10, 0.21, 0.33],
    [-0.52, -0.40, -0.29, -0.17, -0.06, 0.06, 0.17, 0.29, 0.40, 0.51],
    [-0.62, -0.51, -0.39, -0.28, -0.16, -0.05, 0.07, 0.18, 0.30, 0.41, 0.52, 0.63],
    [-0.70, -0.59, -0.47, -0.36, -0.24, -0.13, -0.01, 0.10, 0.22, 0.33, 0.45, 0.56, 0.68],
    [-0.77, -0.66, -0.54, -0.43, -0.31, -0.20, -0.08, 0.03, 0.15, 0.26, 0.38, 0.49, 0.61, 0.72],
    [-0.83, -0.72, -0.60, -0.49, -0.37, -0.26, -0.14, -0.03, 0.09, 0.20, 0.32, 0.43, 0.55, 0.66, 0.78],
    [-0.87, -0.76, -0.64, -0.53, -0.41, -0.30, -0.18, -0.07, 0.05, 0.16, 0.28, 0.39, 0.51, 0.62, 0.74, 0.85],
    [-0.91, -0.80, -0.68, -0.57, -0.45, -0.34, -0.22, -0.11, 0.01, 0.12, 0.24, 0.35, 0.47, 0.58, 0.70, 0.81, 0.91],
    [-0.94, -0.83, -0.71, -0.60, -0.48, -0.37, -0.25, -0.14, -0.02, 0.09, 0.21, 0.32, 0.44, 0.55, 0.67, 0.78, 0.90],
    [-0.95, -0.84, -0.72, -0.61, -0.49, -0.38, -0.26, -0.15, -0.03, 0.08, 0.20, 0.31, 0.43, 0.54, 0.66, 0.77, 0.89],
    [-0.93, -0.81, -0.70, -0.58, -0.47, -0.35, -0.24, -0.12, -0.01, 0.11, 0.22, 0.34, 0.45, 0.57, 0.68, 0.80, 0.91],
    [-0.92, -0.81, -0.69, -0.58, -0.46, -0.35, -0.23, -0.12, 0.00, 0.11, 0.23, 0.34, 0.46, 0.57, 0.69, 0.80, 0.92],
    [-0.91, -0.80, -0.68, -0.57, -0.45, -0.34, -0.22, -0.11, 0.01, 0.12, 0.24, 0.35, 0.47, 0.58, 0.70, 0.81, 0.92],
    [-0.92, -0.80, -0.69, -0.57, -0.46, -0.34, -0.23, -0.11, 0.00, 0.12, 0.23, 0.35, 0.46, 0.58, 0.69, 0.81, 0.92],
    [-0.90, -0.79, -0.67, -0.56, -0.44, -0.33, -0.21, -0.10, 0.02, 0.13, 0.25, 0.36, 0.48, 0.59, 0.71, 0.82, 0.93],
    [-0.88, -0.77, -0.65, -0.54, -0.42, -0.31, -0.19, -0.08, 0.04, 0.15, 0.27, 0.38, 0.50, 0.61, 0.73, 0.84],
    [-0.86, -0.75, -0.63, -0.52, -0.40, -0.29, -0.17, -0.06, 0.06, 0.17, 0.29, 0.40, 0.52, 0.63, 0.75, 0.86],
    [-0.82, -0.71, -0.59, -0.48, -0.36, -0.25, -0.13, -0.02, 0.10, 0.21, 0.33, 0.44, 0.56, 0.67, 0.79, 0.87],
    [-0.78, -0.66, -0.55, -0.43, -0.32, -0.20, -0.09, 0.03, 0.14, 0.26, 0.37, 0.49, 0.60, 0.72, 0.82],
    [-0.72, -0.61, -0.49, -0.38, -0.26, -0.15, -0.03, 0.08, 0.20, 0.31, 0.43, 0.54, 0.66, 0.76],
    [-0.66, -0.54, -0.43, -0.31, -0.20, -0.08, 0.03, 0.15, 0.26, 0.38, 0.49, 0.61, 0.70],
    [-0.58, -0.47, -0.35, -0.24, -0.12, -0.01, 0.11, 0.22, 0.34, 0.45, 0.57, 0.62],
    [-0.47, -0.36, -0.24, -0.13, -0.01, 0.10, 0.22, 0.33, 0.45, 0.50],
    [-0.32, -0.21, -0.09, 0.02, 0.14, 0.26, 0.34],
]

sector_labels = ["1", "2", "3", "4", "5", "6", "7", "8"]
sector_label_x = [-3.39, -1.31, 1.60, 3.65, 3.65, 1.60, -1.30, -3.39]
sector_label_y = [-1.48, -3.56, -3.56, -1.48, 1.41, 3.49, 3.49, 1.41]

tick_values = [-4, -3, -2, -1, 0, 1, 2, 3, 4]
titles = ["a. Year 1996", "b. All years 1979-2008"]

FONT = "Liberation Mono"
W, H = 1556, 784

fig = go.Figure()

# Panel a traces
fig.add_trace(go.Scatter(
    x=[start_point[0]] + traj_pc1, y=[start_point[1]] + traj_pc2,
    mode="lines", line=dict(color="black", width=1.5),
    xaxis="x", yaxis="y", showlegend=False, hoverinfo="skip"))
fig.add_trace(go.Scatter(
    x=traj_pc1, y=traj_pc2, mode="markers",
    marker=dict(symbol="circle-open", size=15, color="black", line=dict(color="black", width=4)),
    xaxis="x", yaxis="y", showlegend=False))
fig.add_trace(go.Scatter(
    x=[start_point[0]], y=[start_point[1]], mode="markers",
    marker=dict(symbol="square-open", size=29, color="black", line=dict(color="black", width=3.5)),
    xaxis="x", yaxis="y", showlegend=False))

# Panel b scatter
core2 = [(xv, yv) for yv, row in zip(core_rows_pc2, core_rows_pc1) for xv in row]
all_pts = scatter_core + core2 + scatter_ring + scatter_ring_b + scatter_ring_c + scatter_outer
fig.add_trace(go.Scatter(
    x=[p[0] for p in all_pts], y=[p[1] for p in all_pts], mode="markers",
    marker=dict(symbol="x-thin", size=10, color="#0000ff", line=dict(color="#0000ff", width=1.4)),
    xaxis="x2", yaxis="y2", showlegend=False))

axis_common = dict(
    range=[-4, 4], tickmode="array", tickvals=tick_values, automargin=False,
    showgrid=True, gridcolor="#b4b4b4", griddash="dot", gridwidth=1,
    showline=True, linecolor="black", linewidth=1.5, mirror="ticks",
    ticks="inside", ticklen=8, tickcolor="black", tickwidth=1,
    zeroline=False, tickfont=dict(family=FONT, size=38, color="black"),
    ticklabeloverflow="allow",
)

xd1 = [100 / W, 782 / W]
xd2 = [866 / W, 1545 / W]
yd = [(H - 726) / H, (H - 66) / H]

fig.update_layout(
    width=W, height=H,
    margin=dict(l=0, r=0, t=0, b=0, autoexpand=False),
    paper_bgcolor="white", plot_bgcolor="white",
    xaxis=dict(domain=xd1, anchor="y", **axis_common),
    yaxis=dict(domain=yd, anchor="x", **axis_common),
    xaxis2=dict(domain=xd2, anchor="y2", **axis_common),
    yaxis2=dict(domain=yd, anchor="x2", **axis_common),
)

shapes = []
line_style = dict(color="black", width=1.5)
dash_style = dict(color="black", width=1.5, dash="4px,3px")
shapes += [
    dict(type="line", xref="x", yref="y", x0=-4, y0=0, x1=0, y1=0, line=dash_style),
    dict(type="line", xref="x", yref="y", x0=0, y0=0, x1=4, y1=0, line=line_style),
    dict(type="line", xref="x", yref="y", x0=0, y0=-4, x1=0, y1=0, line=dash_style),
    dict(type="line", xref="x", yref="y", x0=0, y0=0, x1=0, y1=4, line=line_style),
]
r = 0.7071
shapes += [
    dict(type="line", xref="x2", yref="y2", x0=-4, y0=0, x1=-1, y1=0, line=line_style),
    dict(type="line", xref="x2", yref="y2", x0=1, y0=0, x1=4, y1=0, line=line_style),
    dict(type="line", xref="x2", yref="y2", x0=0, y0=1, x1=0, y1=4, line=line_style),
    dict(type="line", xref="x2", yref="y2", x0=0, y0=-1, x1=0, y1=-4, line=line_style),
    dict(type="line", xref="x2", yref="y2", x0=-4, y0=4, x1=-r, y1=r, line=line_style),
    dict(type="line", xref="x2", yref="y2", x0=4, y0=4, x1=r, y1=r, line=line_style),
    dict(type="line", xref="x2", yref="y2", x0=-4, y0=-4, x1=-r, y1=-r, line=line_style),
    dict(type="line", xref="x2", yref="y2", x0=4, y0=-4, x1=r, y1=-r, line=line_style),
    dict(type="circle", xref="x2", yref="y2", x0=-1, y0=-1, x1=1, y1=1, line=line_style),
]
fig.update_layout(shapes=shapes)

ann = []
ann.append(dict(text=titles[0], xref="paper", yref="paper", x=106 / W, y=1 - 40 / H,
                xanchor="left", yanchor="middle", showarrow=False,
                font=dict(family=FONT, size=42, color="black")))
ann.append(dict(text=titles[1], xref="paper", yref="paper", x=874 / W, y=1 - 40 / H,
                xanchor="left", yanchor="middle", showarrow=False,
                font=dict(family=FONT, size=42, color="black")))
for xr, yr in (("x", "y"), ("x2", "y2")):
    ann.append(dict(text="PC2", xref=xr, yref=yr, x=0.02, y=3.65, xanchor="left", yanchor="middle",
                    showarrow=False, font=dict(family=FONT, size=36, color="black")))
    ann.append(dict(text="PC1", xref=xr, yref=yr, x=3.98, y=0.2, xanchor="right", yanchor="middle",
                    showarrow=False, font=dict(family=FONT, size=36, color="black")))
for t, lx, ly in zip(sector_labels, sector_label_x, sector_label_y):
    ann.append(dict(text=t, xref="x2", yref="y2", x=lx, y=ly, xanchor="center", yanchor="middle",
                    showarrow=False, font=dict(family=FONT, size=38, color="black")))
fig.update_layout(annotations=ann)

fig.write_html("out.html", config={"displayModeBar": False},
               post_script="document.body.style.margin='0px';")
